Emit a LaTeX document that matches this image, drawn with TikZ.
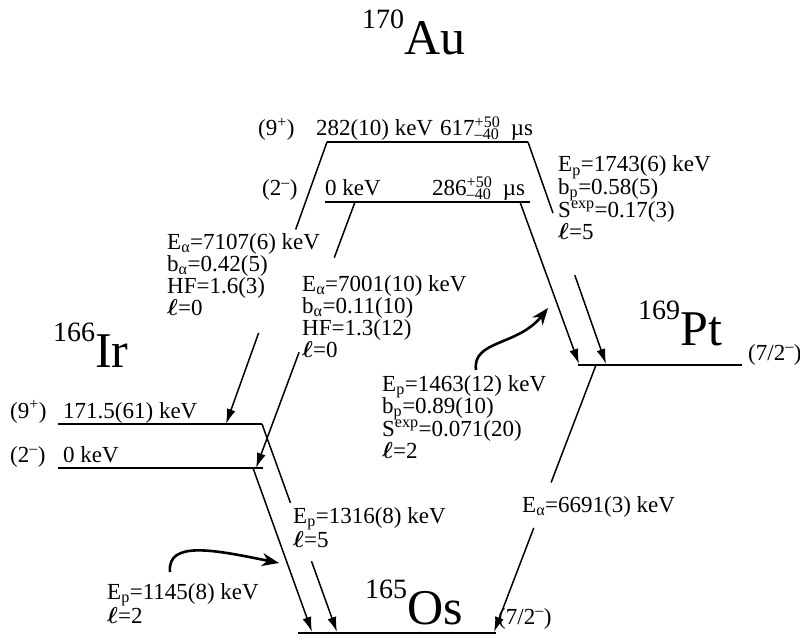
\RequirePackage{fix-cm}
\documentclass[tikz,border=0pt]{standalone}
\usepackage{amsmath}
\usepackage{fontspec}
\setmainfont{Liberation Serif}
\usetikzlibrary{calc,arrows.meta}
\newcommand{\Sb}[1]{\textsubscript{#1}}
\newcommand{\Sp}[1]{\textsuperscript{#1}}
\newcommand{\Iso}[1]{\raisebox{26pt}{\fontsize{28}{28}\selectfont #1}}
\newcommand{\lsym}{$\boldsymbol{\ell}$}
\tikzset{
  lvl/.style={line width=2.4pt},
  conn/.style={line width=1.5pt},
  arr/.style={-{Latex[length=15pt,width=9pt]}},
  bendarrow/.style={line width=2.6pt,-{Stealth[length=17pt,width=13pt]}},
  txt/.style={anchor=base west,inner sep=0pt,font=\fontsize{23}{23}\selectfont},
  iso/.style={anchor=base west,inner sep=0pt,font=\fontsize{50}{50}\selectfont},
}
\begin{document}
\begin{tikzpicture}[x=1pt,y=-1pt]
\useasboundingbox (0,0) rectangle (800,639);
\fill[white] (0,0) rectangle (800,639);
% level end points
\coordinate (au9L) at (327,142); \coordinate (au9R) at (528,142);
\coordinate (au2L) at (325,202); \coordinate (au2R) at (530,202);
\coordinate (ir9L) at (58,424);  \coordinate (ir9R) at (262,424);
\coordinate (ir2L) at (58,468);  \coordinate (ir2R) at (263,468);
\coordinate (ptL) at (578,365);  \coordinate (ptR) at (742,365);
\coordinate (osL) at (298,633);  \coordinate (osR) at (496,633);
% connector points
\coordinate (au2a) at (355,202); \coordinate (au2b) at (520,202);
\coordinate (ir9a) at (226,424);
\coordinate (ir2a) at (256,468); \coordinate (ir2b) at (253,468);
\coordinate (pt0) at (579,364);  \coordinate (pt1) at (606,364);
\coordinate (pt2) at (596,365);
\coordinate (os0) at (312,632);  \coordinate (os1) at (337,632);
\coordinate (os2) at (494,632);
% levels
\draw[lvl] (au9L) -- (au9R);
\draw[lvl] (au2L) -- (au2R);
\draw[lvl] (ir9L) -- (ir9R);
\draw[lvl] (ir2L) -- (ir2R);
\draw[lvl] (ptL) -- (ptR);
\draw[lvl] (osL) -- (osR);
% isotopes
\node[iso] (au) at (362,55) {\Iso{170}Au};
\node[iso] (ir) at (53,367) {\Iso{166}Ir};
\node[iso] (pt) at (638,345) {\Iso{169}Pt};
\node[iso] (os) at (365,624) {\Iso{165}Os};
% level labels
\node[txt] (au9j) at (258,136) {(9\Sp{+})};
\node[txt] (au9e) at (316,136) {282(10) keV};
\node[txt] (au9t) at (440,136) {617\rlap{\Sp{+50}}\Sb{–40}\ \ µs};
\node[txt] (au2j) at (262,196) {(2\Sp{–})};
\node[txt] (au2e) at (325,196) {0 keV};
\node[txt] (au2t) at (432,196) {286\rlap{\Sp{+50}}\Sb{–40}\ \ µs};
\node[txt] (ir9j) at (10,418) {(9\Sp{+})};
\node[txt] (ir9e) at (63,418) {171.5(61) keV};
\node[txt] (ir2j) at (10,462) {(2\Sp{–})};
\node[txt] (ir2e) at (63,462) {0 keV};
\node[txt] (ptj) at (748,360) {(7/2\Sp{–})};
\node[txt] (osj) at (498,624) {(7/2\Sp{–})};
% block A
\node[txt] (a1) at (167,249) {E\Sb{α}=7107(6) keV};
\node[txt] (a2) at (167,271) {b\Sb{α}=0.42(5)};
\node[txt] (a3) at (167,293) {HF=1.6(3)};
\node[txt] (a4) at (167,315) {\lsym=0};
% block B
\node[txt] (b1) at (302,291) {E\Sb{α}=7001(10) keV};
\node[txt] (b2) at (302,313) {b\Sb{α}=0.11(10)};
\node[txt] (b3) at (302,335) {HF=1.3(12)};
\node[txt] (b4) at (302,357) {\lsym=0};
% block C
\node[txt] (c1) at (558,172) {E\Sb{p}=1743(6) keV};
\node[txt] (c2) at (558,194) {b\Sb{p}=0.58(5)};
\node[txt] (c3) at (558,217) {S\Sp{exp}=0.17(3)};
\node[txt] (c4) at (558,239) {\lsym=5};
% block D
\node[txt] (d1) at (382,391) {E\Sb{p}=1463(12) keV};
\node[txt] (d2) at (382,413) {b\Sb{p}=0.89(10)};
\node[txt] (d3) at (382,436) {S\Sp{exp}=0.071(20)};
\node[txt] (d4) at (382,458) {\lsym=2};
% others
\node[txt] (e1) at (522,512) {E\Sb{α}=6691(3) keV};
\node[txt] (f1) at (293,523) {E\Sb{p}=1316(8) keV};
\node[txt] (f2) at (293,547) {\lsym=5};
\node[txt] (g1) at (107,599) {E\Sb{p}=1145(8) keV};
\node[txt] (g2) at (107,623) {\lsym=2};
% connectors
\draw[conn] (au9L) -- ($(au9L)!0.31!(ir9a)$);
\draw[conn,arr] ($(au9L)!0.677!(ir9a)$) -- (ir9a);
\draw[conn] (au2a) -- ($(au2a)!0.21!(ir2a)$);
\draw[conn,arr] ($(au2a)!0.565!(ir2a)$) -- (ir2a);
\draw[conn] (ir9R) -- ($(ir9R)!0.38!(os1)$);
\draw[conn,arr] ($(ir9R)!0.66!(os1)$) -- (os1);
\draw[conn,arr] (ir2b) -- (os0);
\draw[conn,arr] (au2b) -- (pt0);
\draw[conn] (au9R) -- ($(au9R)!0.32!(pt1)$);
\draw[conn,arr] ($(au9R)!0.60!(pt1)$) -- (pt1);
\draw[conn] (pt2) -- ($(pt2)!0.44!(os2)$);
\draw[conn,arr] ($(pt2)!0.61!(os2)$) -- (os2);
% curved arrows
\coordinate (cs1) at (476,370); \coordinate (ce1) at (548,308);
\draw[bendarrow] (cs1) .. controls (472,340) and (518,346) .. (ce1);
\coordinate (cs2) at (170,572); \coordinate (ce2) at (279,563);
\draw[bendarrow] (cs2) .. controls (167,540) and (215,550) .. (ce2);
\end{tikzpicture}
\end{document}
